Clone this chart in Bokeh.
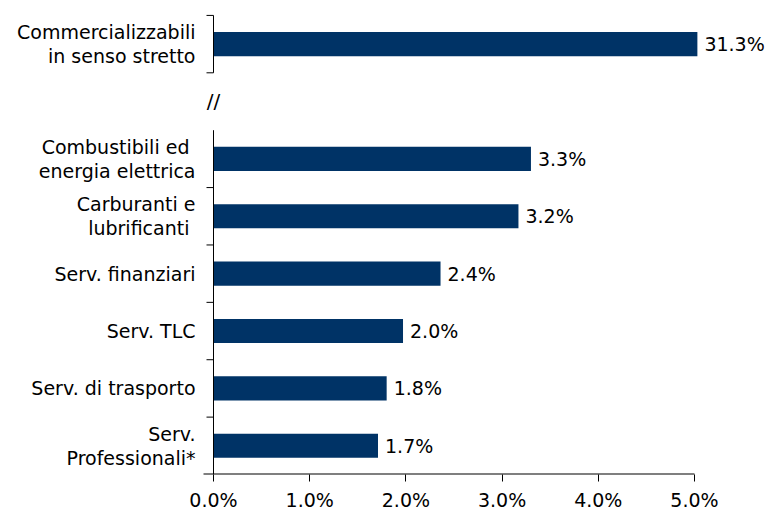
from bokeh.plotting import figure
from bokeh.models import ColumnDataSource, FixedTicker
from bokeh.core.properties import value
from bokeh.embed import file_html
from bokeh.resources import INLINE

# ---- data ----
categories = [
    "Commercializzabili\nin senso stretto",
    "Combustibili ed \nenergia elettrica",
    "Carburanti e\nlubrificanti ",
    "Serv. finanziari",
    "Serv. TLC",
    "Serv. di trasporto",
    "Serv.\nProfessionali*",
]
values = [31.3, 3.30, 3.17, 2.36, 1.97, 1.80, 1.71]
x_ticks = [0, 1, 2, 3, 4, 5]
x_tick_labels = ["0.0%", "1.0%", "2.0%", "3.0%", "4.0%", "5.0%"]

# ---- layout constants ----
BREAK_AT = 5.03          # where an off-scale bar is cut
FONT = "DejaVu Sans"
FS = "19px"
BAR_COLOR = "#003366"
PX_PER_UNIT = 96.2       # horizontal pixels per 1%
LEFT_PX = 213
W, H = 773, 513

# band positions: top (broken) band, gap, then 6 bands
y_pos = [7.5] + [5.5 - i for i in range(len(categories) - 1)]
bar_len = [min(v, BREAK_AT) for v in values]
label_txt = [f"{v:.1f}%" for v in values]

src = ColumnDataSource(dict(y=y_pos, right=bar_len, cat=categories, lab=label_txt))

x_start = -LEFT_PX / PX_PER_UNIT
x_end = (W - LEFT_PX) / PX_PER_UNIT

p = figure(width=W, height=H, output_backend="svg", toolbar_location=None,
           x_range=(x_start, x_end), y_range=(0, 8.26),
           y_axis_location=None, min_border_left=0, min_border_right=0,
           min_border_top=0, min_border_bottom=38)
p.outline_line_color = None
p.xgrid.visible = False
p.ygrid.visible = False
p.background_fill_color = "white"
p.border_fill_color = "white"

p.hbar(y="y", left=0, right="right", height=0.42, source=src,
       fill_color=BAR_COLOR, line_color=None)

# value labels
p.text(x="right", y="y", text="lab", source=src, x_offset=7,
       text_align="left", text_baseline="middle",
       text_font=value(FONT), text_font_size=FS, text_color="#000000")

# category labels
p.text(x=0, y="y", text="cat", source=src, x_offset=-18,
       text_align="right", text_baseline="middle", line_height=1.1,
       text_font=value(FONT), text_font_size=FS, text_color="#000000")

# axes decorations (broken y axis)
tk = 7 / PX_PER_UNIT
p.segment(x0=[0, 0], y0=[0, 7], x1=[0, 0], y1=[6, 8], line_color="black", line_width=1)
tick_y = [1, 2, 3, 4, 5, 7, 8]
p.segment(x0=[-tk] * len(tick_y), y0=tick_y, x1=[0] * len(tick_y), y1=tick_y,
          line_color="black", line_width=1)
p.segment(x0=[-10 / PX_PER_UNIT], y0=[0], x1=[5.0], y1=[0], line_color="black", line_width=2)
p.text(x=[0], y=[6.5], text=["//"], text_align="center", text_baseline="middle",
       text_font=value(FONT), text_font_size="20px", text_color="#000000")

ax = p.xaxis[0]
ax.ticker = FixedTicker(ticks=x_ticks)
ax.major_label_overrides = {t: l for t, l in zip(x_ticks, x_tick_labels)}
ax.axis_line_color = None
ax.major_tick_out = 7
ax.major_tick_in = 0
ax.minor_tick_out = 0
ax.minor_tick_in = 0
ax.major_tick_line_color = "black"
ax.major_label_text_font = FONT
ax.major_label_text_font_size = FS
ax.major_label_text_color = "#000000"
ax.major_label_standoff = 7

open("out.html", "w").write(file_html(p, INLINE))
